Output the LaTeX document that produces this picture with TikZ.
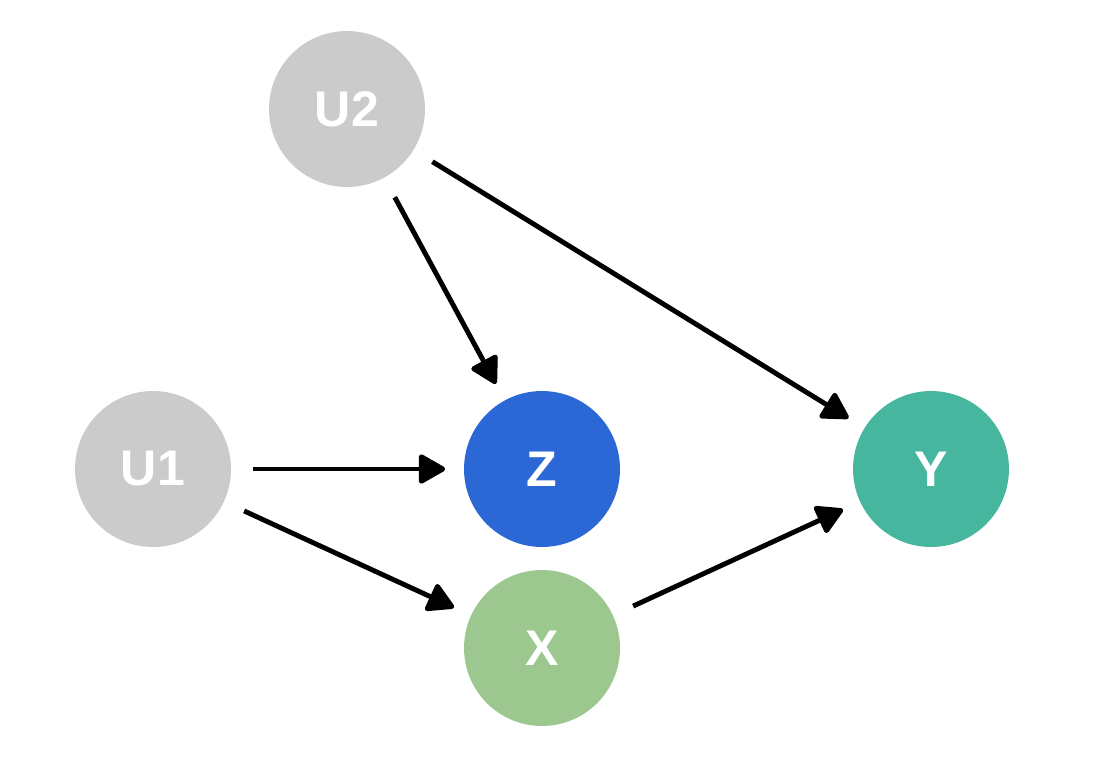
\documentclass[tikz,border=0pt]{standalone}
\usepackage{fontspec}
\setmainfont{Liberation Sans}
\usetikzlibrary{arrows.meta}
\definecolor{latentgray}{RGB}{203,203,203}
\definecolor{zblue}{RGB}{44,103,214}
\definecolor{yteal}{RGB}{70,182,158}
\definecolor{xgreen}{RGB}{156,200,144}
\tikzset{
  var/.style={circle, minimum size=3.12cm, inner sep=0pt, text=white,
    font=\fontsize{28.5}{30}\selectfont\bfseries},
  edge/.style={line width=2.8pt, draw=black,
    -{Triangle[length=16.5pt,width=18pt,round]},
    shorten <=0.44cm, shorten >=0.37cm}
}
\begin{document}
\begin{tikzpicture}[x=0.02cm,y=-0.02cm]
  \useasboundingbox (0,0) rectangle (1096,762);
  \node[var, fill=latentgray] (U2) at (347,109) {U2};
  \node[var, fill=latentgray] (U1) at (153,469) {U1};
  \node[var, fill=zblue] (Z) at (542,469) {Z};
  \node[var, fill=yteal] (Y) at (931,469) {Y};
  \node[var, fill=xgreen] (X) at (542,648) {X};
  \draw[edge] (U2) -- (Z);
  \draw[edge] (U2) -- (Y);
  \draw[edge] (U1) -- (Z);
  \draw[edge] (U1) -- (X);
  \draw[edge] (X) -- (Y);
\end{tikzpicture}
\end{document}
